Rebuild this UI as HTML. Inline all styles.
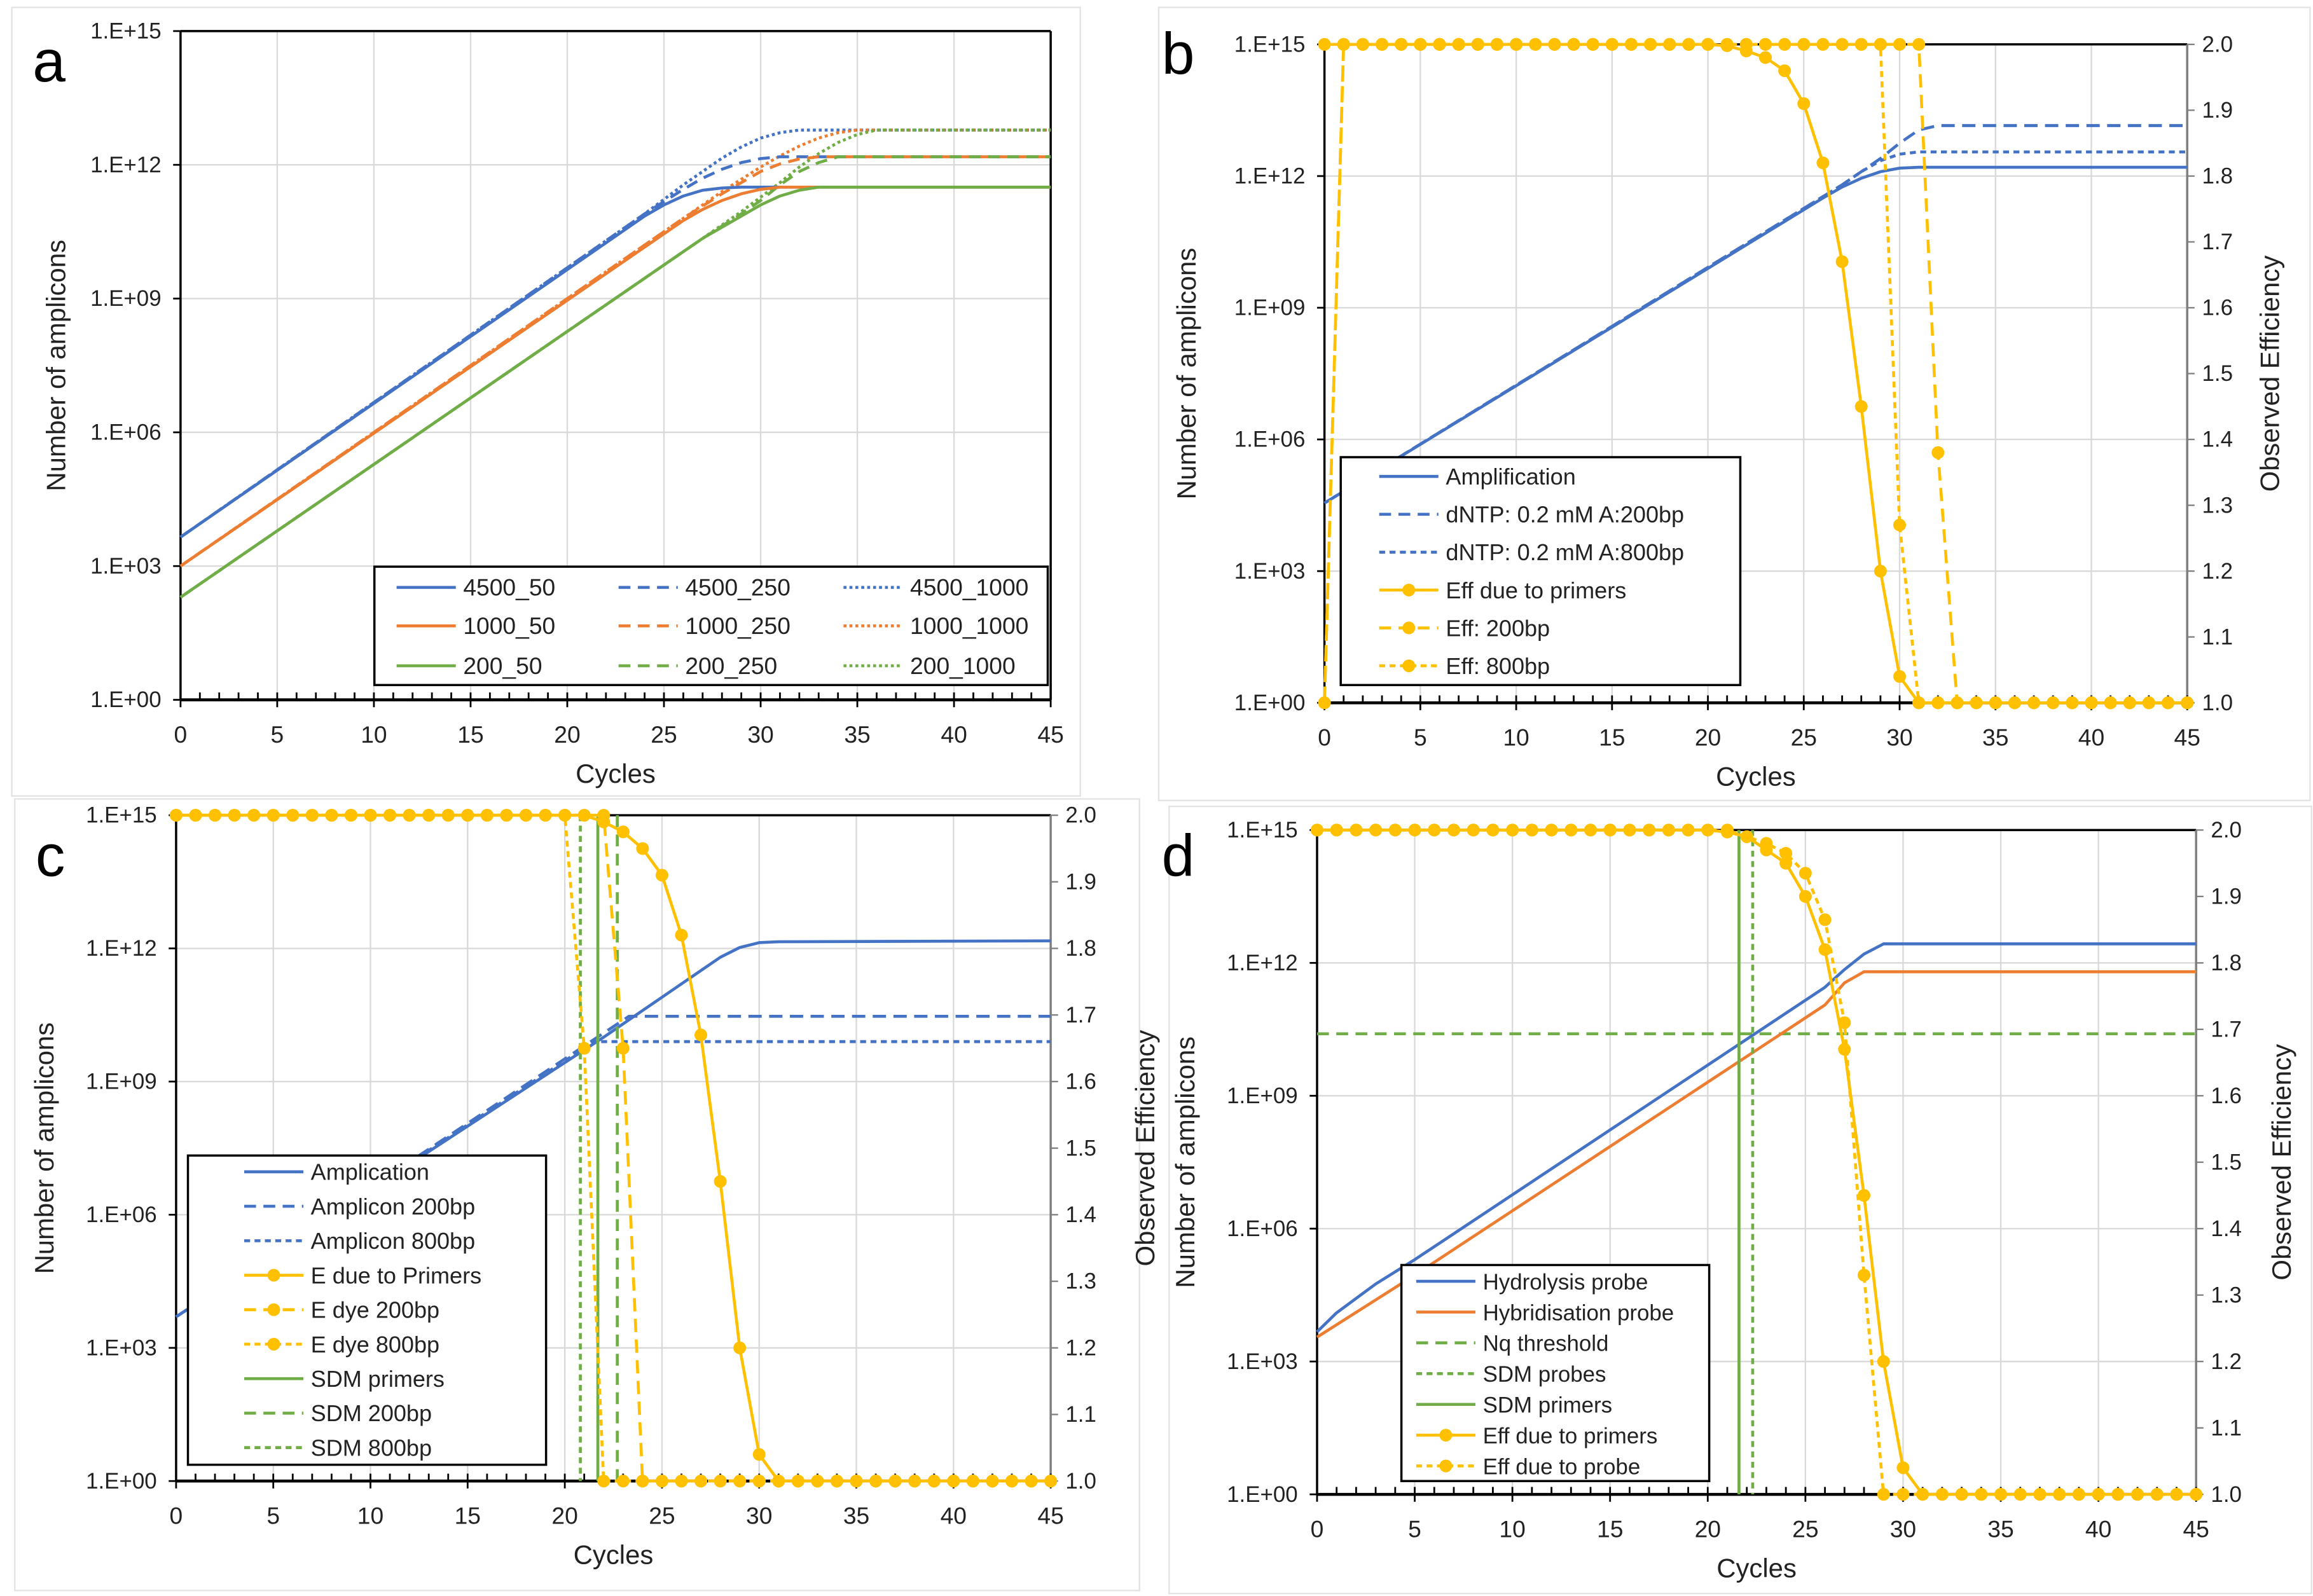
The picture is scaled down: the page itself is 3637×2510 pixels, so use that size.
<!DOCTYPE html>
<html><head><meta charset="utf-8"><style>
html,body{margin:0;padding:0;background:#fff;}
svg{display:block;}
text{font-family:"Liberation Sans",sans-serif;}
</style></head><body>
<svg id="fig" width="3637" height="2510" viewBox="0 0 1563 1078.7" preserveAspectRatio="none" xmlns="http://www.w3.org/2000/svg"></svg>
<script>
// ---------- shared axis data ----------
const xTicks = [0,5,10,15,20,25,30,35,40,45];
const yTickLogs = [0,3,6,9,12,15];
const yTickLabels = ['1.E+00','1.E+03','1.E+06','1.E+09','1.E+12','1.E+15'];
const rTicks = [1.0,1.1,1.2,1.3,1.4,1.5,1.6,1.7,1.8,1.9,2.0];

// ---------- panel a data (log10 amplicons at given cycle) ----------
const a_cycles_4500_50 = [0,24,25,26,27,28,29,45];   const a_log_4500_50 = [3.65,10.85,11.1,11.3,11.43,11.48,11.5,11.5];
const a_cycles_4500_250 = [0,24,26,27,28,29,30,31,45];  const a_log_4500_250 = [3.65,10.9,11.45,11.7,11.9,12.05,12.14,12.18,12.18];
const a_cycles_4500_1000 = [0,24,26,27,28,29,30,31,32,45]; const a_log_4500_1000 = [3.65,10.9,11.55,11.85,12.15,12.4,12.6,12.72,12.78,12.78];
const a_cycles_1000_50 = [0,26,27,28,29,30,31,45];   const a_log_1000_50 = [3.0,10.75,11.0,11.2,11.35,11.45,11.5,11.5];
const a_cycles_1000_250 = [0,26,28,29,30,31,32,33,45];  const a_log_1000_250 = [3.0,10.8,11.35,11.6,11.85,12.02,12.13,12.18,12.18];
const a_cycles_1000_1000 = [0,26,28,30,31,32,33,34,35,45]; const a_log_1000_1000 = [3.0,10.8,11.4,11.95,12.2,12.42,12.6,12.72,12.78,12.78];
const a_cycles_200_50 = [0,27,28,29,30,31,32,33,45];    const a_log_200_50 = [2.3,10.35,10.6,10.85,11.1,11.3,11.43,11.5,11.5];
const a_cycles_200_250 = [0,27,29,30,31,32,33,34,45];   const a_log_200_250 = [2.3,10.35,10.9,11.2,11.55,11.85,12.05,12.18,12.18];
const a_cycles_200_1000 = [0,27,29,31,32,33,34,35,36,45];  const a_log_200_1000 = [2.3,10.35,10.95,11.6,11.95,12.25,12.5,12.68,12.78,12.78];

// ---------- panel b ----------
const b_cycles_amp = [0,26,27,28,29,30,31,45];  const b_log_amp = [4.55,11.5,11.75,11.95,12.1,12.18,12.2,12.2];
const b_cycles_200 = [0,27,28,29,30,31,45];  const b_log_200 = [4.55,11.8,12.1,12.35,12.5,12.55,12.55];
const b_cycles_800 = [0,27,28,29,30,31,32,45]; const b_log_800 = [4.55,11.8,12.1,12.4,12.75,13.05,13.15,13.15];
const b_eff_primers = [2,2,2,2,2,2,2,2,2,2,2,2,2,2,2,2,2,2,2,2,2,1.998,1.99,1.98,1.96,1.91,1.82,1.67,1.45,1.2,1.04,1,1,1,1,1,1,1,1,1,1,1,1,1,1,1];
const b_eff_200 = [1,2,2,2,2,2,2,2,2,2,2,2,2,2,2,2,2,2,2,2,2,2,2,2,2,2,2,2,2,2,2,2,1.38,1,1,1,1,1,1,1,1,1,1,1,1,1];
const b_eff_800 = [1,2,2,2,2,2,2,2,2,2,2,2,2,2,2,2,2,2,2,2,2,2,2,2,2,2,2,2,2,2,1.27,1,1,1,1,1,1,1,1,1,1,1,1,1,1,1];

// ---------- panel c ----------
const c_cycles_amp = [0,22,26,27,28,29,30,31,45]; const c_log_amp = [3.7,10.0,11.2,11.5,11.8,12.02,12.13,12.15,12.17];
const c_cycles_200 = [0,23.3,45]; const c_log_200 = [3.7,10.47,10.47];
const c_cycles_800 = [0,21.5,45]; const c_log_800 = [3.7,9.9,9.9];
const c_eff_primers = [2,2,2,2,2,2,2,2,2,2,2,2,2,2,2,2,2,2,2,2,2,2,1.99,1.975,1.95,1.91,1.82,1.67,1.45,1.2,1.04,1,1,1,1,1,1,1,1,1,1,1,1,1,1,1];
const c_eff_200 = [2,2,2,2,2,2,2,2,2,2,2,2,2,2,2,2,2,2,2,2,2,2,2,1.65,1,1,1,1,1,1,1,1,1,1,1,1,1,1,1,1,1,1,1,1,1,1];
const c_eff_800 = [2,2,2,2,2,2,2,2,2,2,2,2,2,2,2,2,2,2,2,2,2,1.65,1,1,1,1,1,1,1,1,1,1,1,1,1,1,1,1,1,1,1,1,1,1,1,1];
const c_sdm = [21.7,22.7,20.8]; // primers, 200bp, 800bp

// ---------- panel d ----------
const d_cycles_hyd = [0,1,3,5,26,27,28,29,45]; const d_log_hyd = [3.67,4.1,4.75,5.3,11.45,11.85,12.2,12.43,12.43];
const d_cycles_hyb = [0,5,26,27,28,45]; const d_log_hyb = [3.55,4.95,11.05,11.55,11.8,11.8];
const d_nq = 10.4;
const d_sdm = [21.6,22.3]; // primers, probes
const d_eff_primers = [2,2,2,2,2,2,2,2,2,2,2,2,2,2,2,2,2,2,2,2,2,1.997,1.99,1.97,1.95,1.9,1.82,1.67,1.45,1.2,1.04,1,1,1,1,1,1,1,1,1,1,1,1,1,1,1];
const d_eff_probe = [2,2,2,2,2,2,2,2,2,2,2,2,2,2,2,2,2,2,2,2,2,2,1.99,1.98,1.965,1.935,1.865,1.71,1.33,1,1,1,1,1,1,1,1,1,1,1,1,1,1,1,1,1];

// ---------- rendering ----------
const NS='http://www.w3.org/2000/svg';
const svg=document.getElementById('fig');
const BLUE='#4472c4',ORANGE='#ed7d31',GREEN='#70ad47',GOLD='#ffc000';
function mk(tag,attrs,parent){const e=document.createElementNS(NS,tag);for(const k in attrs)e.setAttribute(k,attrs[k]);(parent||svg).appendChild(e);return e;}

function makePanel(P){
  const g=mk('g',{});
  
  
  const sx=c=>P.x0+(P.x1-P.x0)*c/45;
  const sy=l=>P.yb+(P.yt-P.yb)*l/15;
  const sr=v=>P.yb+(P.yt-P.yb)*(v-1);
  const fr=mk('rect',{x:P.fx,y:P.fy,width:P.fw,height:P.fh,fill:'none',stroke:'#e3e3e3','stroke-width':1},g);
  
  
  xTicks.forEach(c=>{if(c>0&&c<45){const l=mk('line',{x1:sx(c),x2:sx(c),y1:P.yt,y2:P.yb,stroke:'#d9d9d9','stroke-width':1},g);}});
  yTickLogs.forEach(t=>{if(t>0&&t<15){const l=mk('line',{x1:P.x0,x2:P.x1,y1:sy(t),y2:sy(t),stroke:'#d9d9d9','stroke-width':1},g);}});
  mk('line',{x1:P.x0,x2:P.x1,y1:P.yt,y2:P.yt,stroke:'#000','stroke-width':1.5},g);
  mk('line',{x1:P.x1,x2:P.x1,y1:P.yt,y2:P.yb,stroke:P.right?'#7f7f7f':'#000','stroke-width':1.5},g);
  const ya=mk('line',{x1:P.x0,x2:P.x0,y1:P.yt,y2:P.yb,stroke:'#000','stroke-width':1.5},g);
  
  const xa=mk('line',{x1:P.x0,x2:P.x1,y1:P.yb,y2:P.yb,stroke:'#000','stroke-width':2},g);
  
  for(let c=0;c<=45;c++){mk('line',{x1:sx(c),x2:sx(c),y1:P.yb-5,y2:P.yb+(c%5===0?5:0),stroke:'#000','stroke-width':1.2},g);}
  xTicks.forEach(c=>{const t=mk('text',{x:sx(c),y:P.yb+29,'font-size':16,'text-anchor':'middle',fill:'#222'},g);t.textContent=c;});
  yTickLogs.forEach((v,i)=>{mk('line',{x1:P.x0-5,x2:P.x0,y1:sy(v),y2:sy(v),stroke:'#000','stroke-width':1.2},g);const t=mk('text',{x:P.x0-13,y:sy(v)+5,'font-size':15,'text-anchor':'end',fill:'#222'},g);t.textContent=yTickLabels[i];});
  if(P.right){rTicks.forEach(v=>{mk('line',{x1:P.x1,x2:P.x1+5,y1:sr(v),y2:sr(v),stroke:'#7f7f7f','stroke-width':1},g);const t=mk('text',{x:P.x1+10,y:sr(v)+5,'font-size':15,fill:'#222'},g);t.textContent=v.toFixed(1);});
    const rt=mk('text',{x:0,y:0,'font-size':18,'text-anchor':'middle',fill:'#222',transform:`translate(${P.rtx},${(P.yt+P.yb)/2}) rotate(-90)`},g);rt.textContent='Observed Efficiency';}
  const xt=mk('text',{x:(P.x0+P.x1)/2,y:P.yb+56,'font-size':18,'text-anchor':'middle',fill:'#222'},g);xt.textContent='Cycles';
  const yt=mk('text',{x:0,y:0,'font-size':18,'text-anchor':'middle',fill:'#222',transform:`translate(${P.ytx},${(P.yt+P.yb)/2}) rotate(-90)`},g);yt.textContent='Number of amplicons';
  const lt=mk('text',{x:P.lx,y:P.ly,'font-size':40,fill:'#000'},g);lt.textContent=P.id;
  (P.series||[]).forEach(s=>{
    let pts=[];
    if(s.kind==='log') pts=s.cx.map((c,i)=>[sx(c),sy(s.v[i])]);
    else if(s.kind==='eff') pts=s.v.map((v,i)=>[sx(i),sr(v)]);
    else if(s.kind==='vline') pts=[[sx(s.c),P.yt],[sx(s.c),P.yb]];
    else if(s.kind==='hline') pts=[[P.x0,sy(s.l)],[P.x1,sy(s.l)]];
    const pl=mk('polyline',{points:pts.map(p=>p.join(',')).join(' '),fill:'none',stroke:s.color,'stroke-width':s.w||2,'stroke-dasharray':s.dash||'none','stroke-linejoin':'round'},g);
    
    
    if(s.kind==='eff'){pts.forEach(p=>{const m=mk('circle',{cx:p[0],cy:p[1],r:4.3,fill:s.color},g);});}
  });
  const L=P.legend;
  const lg=mk('g',{},g);
  mk('rect',{x:L.x,y:L.y,width:L.w,height:L.h,fill:'#fff',stroke:'#000','stroke-width':1.5},lg);
  L.items.forEach(it=>{
    const e=mk('g',{},lg);
    mk('line',{x1:it.x,x2:it.x+40,y1:it.y,y2:it.y,stroke:it.color,'stroke-width':2,'stroke-dasharray':it.dash||'none'},e);
    if(it.marker)mk('circle',{cx:it.x+20,cy:it.y,r:4.3,fill:it.color},e);
    const t=mk('text',{x:it.x+45,y:it.y+5.5,'font-size':L.fs,fill:'#222'},e);t.textContent=it.label;
  });
}

function rows(x,y0,dy,labels){return labels.map((a,i)=>Object.assign({x:x,y:y0+i*dy},a));}

makePanel({id:'a',x0:122,x1:710,yt:21,yb:473,fx:8,fy:5,fw:722,fh:533,ytx:44,lx:22,ly:55,right:false,
 series:[
  {kind:'log',cx:a_cycles_4500_1000,v:a_log_4500_1000,color:BLUE,dash:'2 2',name:'line-4500-1000'},
  {kind:'log',cx:a_cycles_1000_1000,v:a_log_1000_1000,color:ORANGE,dash:'2 2',name:'line-1000-1000'},
  {kind:'log',cx:a_cycles_200_1000,v:a_log_200_1000,color:GREEN,dash:'2 2',name:'line-200-1000'},
  {kind:'log',cx:a_cycles_4500_250,v:a_log_4500_250,color:BLUE,dash:'8 5',name:'line-4500-250'},
  {kind:'log',cx:a_cycles_1000_250,v:a_log_1000_250,color:ORANGE,dash:'8 5',name:'line-1000-250'},
  {kind:'log',cx:a_cycles_200_250,v:a_log_200_250,color:GREEN,dash:'8 5',name:'line-200-250'},
  {kind:'log',cx:a_cycles_4500_50,v:a_log_4500_50,color:BLUE,name:'line-4500-50'},
  {kind:'log',cx:a_cycles_1000_50,v:a_log_1000_50,color:ORANGE,name:'line-1000-50'},
  {kind:'log',cx:a_cycles_200_50,v:a_log_200_50,color:GREEN,name:'line-200-50'}],
 legend:{x:253,y:383,w:455,h:80,fs:16,items:[
  {x:268,y:397,color:BLUE,label:'4500_50'},{x:268,y:423,color:ORANGE,label:'1000_50'},{x:268,y:450,color:GREEN,label:'200_50'},
  {x:418,y:397,color:BLUE,dash:'8 5',label:'4500_250'},{x:418,y:423,color:ORANGE,dash:'8 5',label:'1000_250'},{x:418,y:450,color:GREEN,dash:'8 5',label:'200_250'},
  {x:570,y:397,color:BLUE,dash:'2 2',label:'4500_1000'},{x:570,y:423,color:ORANGE,dash:'2 2',label:'1000_1000'},{x:570,y:450,color:GREEN,dash:'2 2',label:'200_1000'}]}});

makePanel({id:'b',x0:895,x1:1478,yt:30,yb:475,fx:783,fy:5,fw:778,fh:536,ytx:808,rtx:1540,lx:785,ly:50,right:true,
 series:[
  {kind:'log',cx:b_cycles_800,v:b_log_800,color:BLUE,dash:'9 5',name:'line-dntp-200bp'},
  {kind:'log',cx:b_cycles_200,v:b_log_200,color:BLUE,dash:'4 3',name:'line-dntp-800bp'},
  {kind:'log',cx:b_cycles_amp,v:b_log_amp,color:BLUE,name:'line-amplification'},
  {kind:'eff',v:b_eff_200,color:GOLD,dash:'9 5',name:'line-eff-200bp'},
  {kind:'eff',v:b_eff_800,color:GOLD,dash:'4 3',name:'line-eff-800bp'},
  {kind:'eff',v:b_eff_primers,color:GOLD,name:'line-eff-primers'}],
 legend:{x:906,y:309,w:270,h:154,fs:15.5,items:rows(932,322,25.6,[
  {color:BLUE,label:'Amplification'},{color:BLUE,dash:'8 5',label:'dNTP: 0.2 mM  A:200bp'},{color:BLUE,dash:'4 3',label:'dNTP: 0.2 mM  A:800bp'},
  {color:GOLD,marker:1,label:'Eff due to primers'},{color:GOLD,marker:1,dash:'8 5',label:'Eff: 200bp'},{color:GOLD,marker:1,dash:'4 3',label:'Eff: 800bp'}])}});

makePanel({id:'c',x0:119,x1:710,yt:551,yb:1001,fx:10,fy:540,fw:760,fh:535,ytx:36,rtx:780,lx:24,ly:592,right:true,
 series:[
  {kind:'log',cx:c_cycles_200,v:c_log_200,color:BLUE,dash:'9 5',name:'line-amplicon-200bp'},
  {kind:'log',cx:c_cycles_800,v:c_log_800,color:BLUE,dash:'4 3',name:'line-amplicon-800bp'},
  {kind:'log',cx:c_cycles_amp,v:c_log_amp,color:BLUE,name:'line-amplication'},
  {kind:'vline',c:c_sdm[0],color:GREEN,name:'line-sdm-primers'},
  {kind:'vline',c:c_sdm[1],color:GREEN,dash:'8 5',name:'line-sdm-200bp'},
  {kind:'vline',c:c_sdm[2],color:GREEN,dash:'4 3',name:'line-sdm-800bp'},
  {kind:'eff',v:c_eff_200,color:GOLD,dash:'9 5',name:'line-e-dye-200bp'},
  {kind:'eff',v:c_eff_800,color:GOLD,dash:'4 3',name:'line-e-dye-800bp'},
  {kind:'eff',v:c_eff_primers,color:GOLD,name:'line-e-primers'}],
 legend:{x:127,y:781,w:242,h:209,fs:15.5,items:rows(165,792,23.3,[
  {color:BLUE,label:'Amplication'},{color:BLUE,dash:'8 5',label:'Amplicon 200bp'},{color:BLUE,dash:'4 3',label:'Amplicon 800bp'},
  {color:GOLD,marker:1,label:'E due to Primers'},{color:GOLD,marker:1,dash:'8 5',label:'E dye 200bp'},{color:GOLD,marker:1,dash:'4 3',label:'E dye 800bp'},
  {color:GREEN,label:'SDM primers'},{color:GREEN,dash:'8 5',label:'SDM 200bp'},{color:GREEN,dash:'4 3',label:'SDM 800bp'}])}});

makePanel({id:'d',x0:890,x1:1484,yt:561,yb:1010,fx:790,fy:545,fw:772,fh:532,ytx:807,rtx:1548,lx:785,ly:592,right:true,
 series:[
  {kind:'hline',l:d_nq,color:GREEN,dash:'8 5',name:'line-nq-threshold'},
  {kind:'log',cx:d_cycles_hyd,v:d_log_hyd,color:BLUE,name:'line-hydrolysis-probe'},
  {kind:'log',cx:d_cycles_hyb,v:d_log_hyb,color:ORANGE,name:'line-hybridisation-probe'},
  {kind:'vline',c:d_sdm[0],color:GREEN,name:'line-sdm-primers'},
  {kind:'vline',c:d_sdm[1],color:GREEN,dash:'4 3',name:'line-sdm-probes'},
  {kind:'eff',v:d_eff_probe,color:GOLD,dash:'4 3',name:'line-eff-probe'},
  {kind:'eff',v:d_eff_primers,color:GOLD,name:'line-eff-primers'}],
 legend:{x:947,y:855,w:208,h:146,fs:15,items:rows(957,866,20.8,[
  {color:BLUE,label:'Hydrolysis probe'},{color:ORANGE,label:'Hybridisation probe'},{color:GREEN,dash:'8 5',label:'Nq threshold'},
  {color:GREEN,dash:'4 3',label:'SDM probes'},{color:GREEN,label:'SDM primers'},
  {color:GOLD,marker:1,label:'Eff due to primers'},{color:GOLD,marker:1,dash:'4 3',label:'Eff due to probe'}])}});
</script>
</body></html>
